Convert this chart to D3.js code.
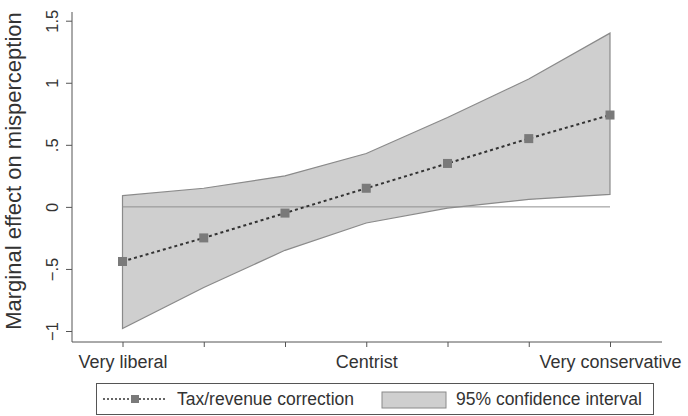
<!DOCTYPE html>
<html>
<head>
<meta charset="utf-8">
<script src="https://cdn.jsdelivr.net/npm/d3@7"></script>
<style>
  body { margin: 0; background: #fff; }
  svg { display: block; font-family: "Liberation Sans", Arial, sans-serif; }
</style>
</head>
<body>
<svg class="chart" width="688" height="416"></svg>
<script>
// Ideology scale 1..7, only three positions get a label
var ideology = [1, 2, 3, 4, 5, 6, 7];
var ideologyLabels = ['Very liberal', '', '', 'Centrist', '', '', 'Very conservative'];

// Marginal effect of tax/revenue correction with 95% CI
var estimate = [-0.44, -0.25, -0.05, 0.15, 0.35, 0.55, 0.74];
var ciUpper = [0.09, 0.15, 0.25, 0.43, 0.72, 1.03, 1.40];
var ciLower = [-0.98, -0.65, -0.35, -0.13, -0.01, 0.06, 0.10];

var yTicks = [-1, -0.5, 0, 0.5, 1, 1.5];
var legendLabels = ['Tax/revenue correction', '95% confidence interval'];

var textColor = '#333';
var axisColor = '#555';
var bandFill = '#cfcfcf';
var bandStroke = '#8a8a8a';
var markerFill = '#7a7a7a';

var svg = d3.select('svg.chart');

var plotLeft = 72, plotRight = 662, plotTop = 12, plotBottom = 342;

var xScale = d3.scaleLinear()
    .domain([1, 7])
    .range([122.5, 610]);

var yScale = d3.scaleLinear()
    .domain([-1, 1.5])
    .range([331, 20.7]);

function tickFormat(v) {
    if (v === 0) return '0';
    var s = String(Math.abs(v)).replace(/^0\./, '.');
    return (v < 0 ? '\u2212' : '') + s;
}

var rows = ideology.map(function (d, i) {
    return { x: d, est: estimate[i], lo: ciLower[i], hi: ciUpper[i] };
});

// confidence band
var area = d3.area()
    .x(function (d) { return xScale(d.x); })
    .y0(function (d) { return yScale(d.lo); })
    .y1(function (d) { return yScale(d.hi); });

svg.append('path')
    .datum(rows)
    .attr('d', area)
    .attr('fill', bandFill)
    .attr('stroke', bandStroke)
    .attr('stroke-width', 1.2);

// zero reference line
svg.append('line')
    .attr('x1', xScale(1)).attr('x2', xScale(7))
    .attr('y1', yScale(0)).attr('y2', yScale(0))
    .attr('stroke', '#8f8f8f')
    .attr('stroke-width', 1);

// point estimates
var line = d3.line()
    .x(function (d) { return xScale(d.x); })
    .y(function (d) { return yScale(d.est); });

svg.append('path')
    .datum(rows)
    .attr('d', line)
    .attr('fill', 'none')
    .attr('stroke', '#333')
    .attr('stroke-width', 2)
    .attr('stroke-dasharray', '3,3');

svg.selectAll('rect.marker')
    .data(rows)
    .enter()
    .append('rect')
    .attr('class', 'marker')
    .attr('x', function (d) { return xScale(d.x) - 4.5; })
    .attr('y', function (d) { return yScale(d.est) - 4.5; })
    .attr('width', 9)
    .attr('height', 9)
    .attr('fill', markerFill);

// y axis
var yAxis = svg.append('g')
    .attr('transform', 'translate(' + plotLeft + ',0)')
    .call(d3.axisLeft(yScale).tickValues(yTicks).tickSize(6).tickFormat(tickFormat));

yAxis.select('.domain').attr('d', 'M0,' + plotTop + 'V' + plotBottom);
yAxis.selectAll('line').attr('stroke', axisColor);
yAxis.select('.domain').attr('stroke', axisColor);
yAxis.selectAll('text')
    .attr('x', null).attr('dy', null)
    .attr('transform', 'translate(-14,0) rotate(-90)')
    .attr('text-anchor', 'middle')
    .attr('fill', textColor)
    .style('font-size', '16.5px');

// x axis
var xAxis = svg.append('g')
    .attr('transform', 'translate(0,' + plotBottom + ')')
    .call(d3.axisBottom(xScale).tickValues(ideology).tickSize(5)
        .tickFormat(function (d, i) { return ideologyLabels[i]; }));

xAxis.select('.domain').attr('d', 'M' + plotLeft + ',0H' + plotRight).attr('stroke', axisColor);
xAxis.selectAll('line').attr('stroke', axisColor);
xAxis.selectAll('text')
    .attr('y', 26).attr('dy', null)
    .attr('fill', textColor)
    .style('font-size', '18px');

svg.selectAll('.domain, .tick line').attr('stroke-width', 1);

// y title
svg.append('text')
    .attr('transform', 'translate(21,171) rotate(-90)')
    .attr('text-anchor', 'middle')
    .attr('fill', textColor)
    .style('font-size', '22px')
    .text('Marginal effect on misperception');

// legend
var legend = svg.append('g');
legend.append('rect')
    .attr('x', 96.5).attr('y', 383.5)
    .attr('width', 557).attr('height', 31)
    .attr('fill', '#fff')
    .attr('stroke', axisColor);

legend.append('line')
    .attr('x1', 103).attr('x2', 167)
    .attr('y1', 399).attr('y2', 399)
    .attr('stroke', '#333')
    .attr('stroke-width', 1.5)
    .attr('stroke-dasharray', '2,2');
legend.append('rect')
    .attr('x', 131).attr('y', 395)
    .attr('width', 8).attr('height', 8)
    .attr('fill', markerFill);
legend.append('text')
    .attr('x', 177).attr('y', 405)
    .attr('fill', textColor)
    .style('font-size', '17.5px')
    .text(legendLabels[0]);

legend.append('rect')
    .attr('x', 382).attr('y', 392)
    .attr('width', 64).attr('height', 16)
    .attr('fill', bandFill)
    .attr('stroke', bandStroke);
legend.append('text')
    .attr('x', 456).attr('y', 405)
    .attr('fill', textColor)
    .style('font-size', '17.5px')
    .text(legendLabels[1]);
</script>
</body>
</html>
